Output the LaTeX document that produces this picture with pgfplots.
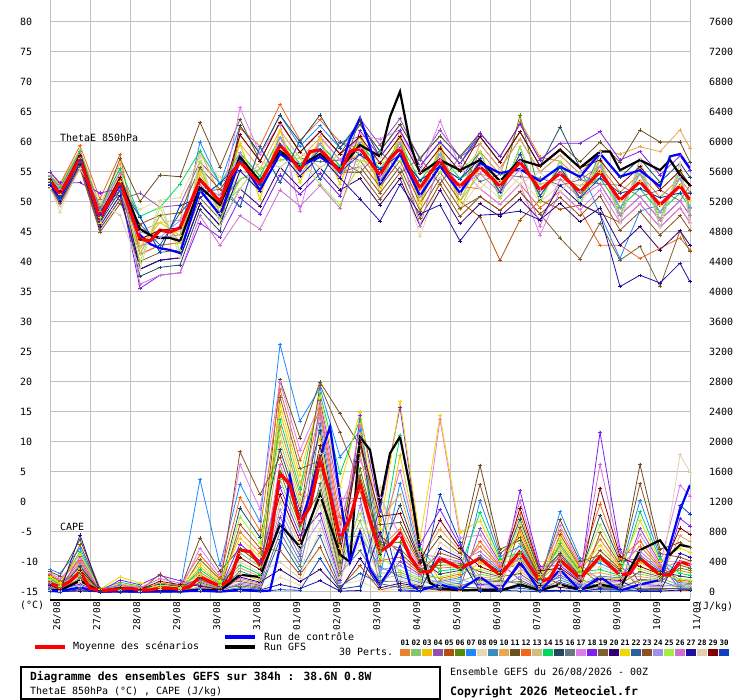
\documentclass[border=0pt]{standalone}
\usepackage{pgfplots}
\pgfplotsset{compat=1.18}
\usepackage{pgfplotstable}
\usepackage{fontspec}
\setmainfont{DejaVu Sans Mono}

\definecolor{c01}{HTML}{E8822F}\definecolor{c02}{HTML}{88C46C}\definecolor{c03}{HTML}{F0C000}
\definecolor{c04}{HTML}{9050B0}\definecolor{c05}{HTML}{B0500E}\definecolor{c06}{HTML}{5A8A0A}
\definecolor{c07}{HTML}{1E88FF}\definecolor{c08}{HTML}{E8D8B0}\definecolor{c09}{HTML}{3C8CC0}
\definecolor{c10}{HTML}{E8A850}\definecolor{c11}{HTML}{6A5020}\definecolor{c12}{HTML}{F06820}
\definecolor{c13}{HTML}{D0C080}\definecolor{c14}{HTML}{00D860}\definecolor{c15}{HTML}{224860}
\definecolor{c16}{HTML}{687880}\definecolor{c17}{HTML}{E07CF0}\definecolor{c18}{HTML}{8020F0}
\definecolor{c19}{HTML}{806030}\definecolor{c20}{HTML}{300070}\definecolor{c21}{HTML}{F0D800}
\definecolor{c22}{HTML}{2860A0}\definecolor{c23}{HTML}{905020}\definecolor{c24}{HTML}{A090F0}
\definecolor{c25}{HTML}{A0F040}\definecolor{c26}{HTML}{D070D0}\definecolor{c27}{HTML}{2010A0}
\definecolor{c28}{HTML}{E0D0B0}\definecolor{c29}{HTML}{800000}\definecolor{c30}{HTML}{1040C0}

% ThetaE 850 hPa, 30 perturbations (deg C)
\pgfplotstableread{
h p01 p02 p03 p04 p05 p06 p07 p08 p09 p10 p11 p12 p13 p14 p15 p16 p17 p18 p19 p20 p21 p22 p23 p24 p25 p26 p27 p28 p29 p30
0 54.3 53.3 53.8 52.5 53.5 53.0 54.0 52.8 53.8 54.5 54.0 55.0 53.3 54.3 53.0 52.8 53.5 55.0 52.5 53.8 54.0 53.0 52.3 53.3 53.5 54.0 52.8 52.3 53.8 53.3
6 52.5 50.9 51.7 49.7 51.3 50.5 52.1 48.3 51.7 52.9 52.1 53.0 50.9 52.5 50.5 50.1 51.3 53.2 49.7 51.7 52.1 50.5 49.3 50.9 51.3 52.1 50.1 49.3 51.7 50.9
18 58.4 57.0 57.7 55.9 57.3 56.6 58.0 56.3 57.7 58.7 58.0 59.4 57.0 58.4 56.6 56.3 57.3 53.2 55.9 57.7 58.0 56.6 55.6 57.0 57.3 58.0 56.3 55.6 57.7 57.0
30 49.0 48.0 47.0 45.5 47.5 48.5 48.5 46.0 47.0 49.5 48.5 50.5 48.0 49.0 46.5 49.0 47.5 51.5 45.5 48.0 46.5 48.5 45.0 48.0 47.5 48.5 46.0 50.0 48.0 48.0
42 55.6 52.6 54.1 50.4 53.4 51.9 54.9 51.1 54.1 56.4 57.2 57.9 52.6 55.6 51.9 51.1 53.4 52.2 50.4 54.1 54.9 51.9 49.7 52.6 53.4 54.9 51.1 47.8 54.1 52.6
54 41.3 42.5 43.8 51.5 38.8 41.3 42.6 48.8 47.5 45.1 50.1 41.3 41.3 47.6 37.6 43.8 42.6 35.6 40.1 38.8 42.5 46.3 46.3 45.0 40.0 36.3 38.8 38.8 43.8 47.5
66 42.8 46.6 45.3 49.1 40.3 47.8 44.1 50.3 41.6 46.6 54.5 42.8 47.8 49.1 39.1 45.3 44.1 37.8 41.6 40.3 46.6 42.8 47.8 44.1 49.1 37.8 40.3 50.3 45.3 41.6
78 43.2 44.4 45.7 49.5 40.7 43.2 44.5 50.7 49.4 47.0 54.2 43.2 43.2 53.0 39.5 45.7 44.5 38.2 42.0 40.7 44.4 48.2 48.2 46.9 41.9 38.2 40.7 40.7 45.7 49.4
90 51.7 54.7 53.7 56.7 49.7 55.7 60.0 57.7 50.7 58.5 63.3 51.7 55.7 58.5 48.7 53.7 52.7 46.5 50.7 49.7 54.7 51.7 55.7 52.7 56.7 47.7 49.7 57.7 53.7 50.7
102 48.1 49.1 50.1 53.1 46.1 48.1 53.0 54.1 53.1 51.1 55.8 48.1 48.1 53.1 45.1 50.1 49.1 44.1 47.1 46.1 49.1 52.1 52.1 51.1 47.1 42.8 46.1 46.1 50.1 53.1
114 58.2 52.2 59.7 55.2 61.2 53.7 62.7 50.7 49.2 59.7 63.8 62.3 55.2 58.2 62.7 53.7 65.7 50.7 56.7 52.2 59.7 49.2 56.7 58.2 53.7 47.7 55.2 52.2 61.2 56.7
126 54.3 56.7 50.5 51.8 56.8 55.5 58.0 48.0 59.2 55.5 56.8 59.3 54.2 54.3 58.0 55.5 58.0 48.0 53.0 49.3 50.5 59.2 53.0 51.7 55.5 45.5 51.8 56.7 56.8 53.0
138 60.8 55.8 62.0 58.3 63.3 57.0 64.5 54.5 53.3 62.0 63.3 66.3 58.3 60.8 64.5 57.0 63.0 54.5 59.5 55.8 62.0 53.3 59.5 60.8 57.0 52.0 58.3 55.8 63.3 59.5
150 56.3 58.3 53.3 54.3 58.3 57.3 59.3 51.3 60.3 57.3 58.3 60.3 56.3 56.3 60.0 57.3 48.5 51.3 55.3 52.3 53.3 60.3 55.3 54.3 57.3 49.3 54.3 58.3 58.3 55.3
162 59.7 55.7 60.7 57.7 61.7 56.7 62.7 54.7 53.7 60.7 61.7 63.7 57.7 59.7 64.5 56.7 61.0 54.7 58.7 55.7 60.7 53.7 58.7 59.7 53.0 52.7 57.7 55.7 61.7 58.7
174 56.0 58.0 53.0 54.0 58.0 57.0 59.0 51.0 60.0 57.0 58.0 60.0 56.0 56.0 59.0 57.0 57.0 51.0 55.0 52.0 53.0 60.0 55.0 54.0 49.5 49.0 54.0 58.0 58.0 55.0
186 57.9 60.9 61.9 63.9 56.9 59.9 62.9 55.9 60.9 57.9 62.9 58.9 56.9 59.9 63.5 54.9 61.0 61.9 55.9 53.9 60.9 57.9 54.9 59.9 56.9 58.9 50.5 55.9 60.9 57.9
198 53.5 52.5 51.5 59.5 52.5 53.5 58.5 51.5 52.5 53.5 58.5 54.5 56.5 55.5 57.5 58.5 60.5 57.5 51.5 49.5 52.5 55.5 50.5 53.5 56.5 54.5 46.8 57.5 56.5 55.5
210 57.9 60.9 61.9 63.9 56.9 59.9 62.9 55.9 60.9 57.9 62.9 58.9 56.9 59.9 61.9 54.9 62.0 61.9 55.9 53.9 60.9 57.9 54.9 59.9 56.9 58.9 52.9 55.9 60.9 57.9
222 51.0 49.8 48.6 57.0 49.8 51.1 57.3 44.2 49.8 51.0 57.3 52.3 54.8 53.5 56.0 57.3 55.0 56.0 48.5 46.0 49.8 53.6 47.3 51.1 54.8 46.0 48.0 56.1 54.8 53.6
234 56.0 59.0 60.0 62.0 55.0 58.0 61.0 54.0 59.0 56.0 61.0 57.0 55.0 58.0 60.0 53.0 63.5 60.0 54.0 52.0 59.0 56.0 53.0 58.0 55.0 57.0 49.5 54.0 59.0 56.0
246 51.4 50.1 48.8 57.5 50.1 51.3 57.6 48.9 50.1 51.4 57.6 52.6 55.1 53.9 56.4 57.6 56.0 56.4 48.9 46.4 50.1 53.8 47.6 51.3 55.1 52.6 43.5 56.3 55.1 53.8
258 58.4 54.7 55.9 59.7 47.5 57.2 60.9 53.4 57.2 59.7 61.5 52.2 54.7 55.9 60.9 53.4 52.2 61.5 50.9 49.7 57.2 58.4 50.9 55.9 58.4 54.7 47.8 52.2 60.9 57.2
270 54.6 53.6 52.6 55.6 40.3 51.6 56.6 50.6 51.6 55.6 57.6 49.6 53.6 52.6 56.6 54.6 49.6 57.6 48.6 47.6 51.6 50.6 48.6 52.6 50.6 51.6 48.0 55.6 56.6 51.6
282 63.5 55.5 56.7 60.5 47.0 64.5 61.7 54.2 58.0 60.5 63.0 53.0 55.5 56.7 61.7 54.2 53.0 63.0 51.7 50.5 58.0 59.2 51.7 56.7 59.2 55.5 48.5 53.0 61.7 58.0
294 57.5 53.0 52.0 55.0 50.3 51.0 56.0 50.0 51.0 55.0 57.0 49.0 53.0 52.0 56.0 54.0 44.5 57.0 48.0 47.0 51.0 50.0 48.0 52.0 50.0 46.0 47.0 55.0 56.0 51.0
306 56.8 53.8 54.8 57.8 48.8 55.8 58.8 52.8 55.8 57.8 59.8 51.8 53.8 54.8 62.5 52.8 51.8 59.8 44.0 49.8 55.8 56.8 50.8 54.8 56.8 53.8 52.8 51.8 58.8 55.8
318 53.7 52.7 51.7 54.7 49.5 50.7 55.7 49.7 50.7 54.7 56.7 48.7 52.7 51.7 55.7 53.7 48.7 59.8 40.5 46.7 50.7 49.7 47.7 51.7 49.7 50.7 49.7 54.7 55.7 50.7
330 56.0 54.0 57.0 53.0 48.1 56.0 48.0 54.0 58.0 58.5 60.0 42.8 56.0 54.0 58.0 53.0 52.0 61.7 46.5 49.0 55.0 57.0 51.0 56.0 57.0 53.0 48.0 58.0 57.0 54.0
342 51.6 51.5 47.8 47.8 46.6 49.0 40.6 49.1 46.5 58.0 56.6 42.8 49.0 49.1 54.1 52.8 46.6 57.0 40.3 42.8 50.3 47.8 45.3 49.0 47.8 47.8 35.9 46.5 52.8 51.5
354 54.7 52.2 55.9 50.9 49.7 54.7 48.5 52.2 57.2 59.2 62.0 40.6 54.7 52.2 57.2 50.9 49.7 58.4 42.6 45.9 53.4 55.9 48.4 54.7 55.9 50.9 37.8 57.2 55.9 52.2
366 50.8 50.7 47.0 47.0 45.8 48.2 49.5 48.3 45.7 58.4 60.0 42.3 48.2 48.3 53.3 52.0 45.8 54.5 35.9 42.0 49.5 47.0 44.5 48.2 47.0 47.0 36.5 45.7 52.0 50.7
378 54.0 51.5 55.2 50.2 49.0 54.0 52.7 51.5 56.5 62.0 60.0 44.0 54.0 51.5 56.5 50.2 49.0 57.7 45.2 45.2 52.7 55.2 47.7 54.0 55.2 50.2 39.8 56.5 55.2 51.5
384 51.6 51.5 47.8 47.8 46.6 49.0 50.3 49.1 46.5 59.0 56.6 42.0 49.0 49.1 54.1 52.8 46.6 55.3 41.7 42.8 50.3 47.8 45.3 49.0 47.8 47.8 36.7 46.5 52.8 51.5
}\thetaP

% CAPE, 30 perturbations (J/kg)
\pgfplotstableread{
h p01 p02 p03 p04 p05 p06 p07 p08 p09 p10 p11 p12 p13 p14 p15 p16 p17 p18 p19 p20 p21 p22 p23 p24 p25 p26 p27 p28 p29 p30
0 171 108 192 63 30 117 300 12 54 153 270 231 81 180 144 45 249 99 216 18 204 36 135 72 162 126 6 24 90 3
6 90 40 112 20 10 45 250 4 18 72 212 158 25 100 65 15 180 35 140 5 125 12 58 22 80 50 2 8 30 1
18 399 231 315 476 42 168 581 70 357 210 700 420 126 539 336 189 448 105 252 14 504 56 630 84 273 378 760 147 294 28
30 28 16 22 34 3 12 41 5 25 15 50 30 9 38 24 13 32 7 18 1 36 4 45 6 19 27 0 10 21 2
42 46 14 110 20 5 36 84 3 10 74 52 24 12 130 66 7 40 160 32 6 200 4 28 18 16 96 1 8 58 2
54 28 8 66 12 3 22 50 2 6 44 31 14 7 78 40 4 24 96 19 4 120 2 17 11 10 58 1 5 35 1
66 73 44 20 8 81 7 40 2 22 26 51 121 13 31 106 6 15 220 11 18 64 3 240 9 92 176 4 35 143 1
78 50 30 14 5 56 5 27 2 15 18 35 83 9 21 72 4 11 150 8 12 44 2 39 6 63 120 3 24 98 1
90 261 108 333 54 27 126 1500 14 45 207 720 495 72 297 180 36 585 90 432 18 378 32 162 63 234 144 9 22 81 5
102 102 42 130 21 11 49 350 5 18 81 280 193 28 116 70 14 228 35 168 7 147 12 63 25 91 56 4 9 32 2
114 800 520 240 100 900 80 1440 20 280 320 580 1260 160 360 1120 60 1700 640 140 200 720 30 1870 120 1000 180 40 400 460 10
126 520 338 156 65 585 52 936 13 182 208 377 819 104 234 728 39 1105 416 91 130 468 20 1300 78 650 117 26 260 299 7
138 2200 1500 2400 1000 550 1600 3300 200 900 2000 2830 2700 1200 2300 1900 800 2800 1400 2600 300 2500 700 1800 1100 2100 1700 100 400 1300 30
150 1300 821 1459 479 228 889 2280 91 410 1163 2052 1756 616 1368 1094 342 1892 752 1642 137 1550 274 1026 547 1231 958 46 182 684 23
162 2400 1650 2050 2550 600 1350 2720 850 2250 1550 2800 2450 1150 2650 2150 1450 2500 1050 1750 300 2600 750 2760 950 1850 2350 150 1250 1950 450
174 900 350 575 1250 50 225 1800 100 725 300 2380 1000 175 1575 650 250 1125 150 400 25 1400 75 2125 125 450 800 12 200 500 38
186 1850 950 2250 1250 350 1650 2150 150 750 2100 1950 1350 850 2300 2050 550 1750 2350 1550 450 2400 250 1450 1150 1050 2200 20 650 2000 80
198 588 252 378 84 28 630 210 14 336 952 896 420 168 546 504 140 1260 1078 672 56 840 112 756 294 462 714 798 1400 1008 1162
210 841 261 1827 406 87 667 1450 44 203 1305 928 464 232 2088 1160 145 754 2465 580 116 2540 58 522 348 290 1624 15 174 1044 29
222 357 168 539 231 56 315 476 28 126 448 378 252 147 581 420 84 336 630 294 70 700 42 273 210 189 504 7 105 399 14
234 320 100 160 40 20 360 80 10 140 840 740 180 70 280 240 60 2300 1100 400 30 2350 50 520 120 200 460 580 660 960 1300
246 336 144 216 48 16 360 120 8 192 544 512 240 96 312 288 80 720 616 384 32 800 64 432 168 264 408 456 480 576 664
258 608 237 389 845 34 152 1217 68 490 203 1690 676 118 1065 439 169 760 101 270 17 946 51 1436 85 304 541 8 135 338 25
270 325 188 257 388 34 137 473 57 291 171 570 342 103 439 274 154 365 86 205 11 410 46 513 68 222 308 6 120 239 23
282 810 648 405 162 864 135 608 27 446 486 688 1040 284 526 972 108 324 1350 243 364 770 54 729 202 918 1215 81 567 1120 14
294 204 163 102 41 218 34 153 7 112 122 173 262 71 133 245 27 82 340 61 92 194 14 184 51 231 306 20 143 282 3
306 610 385 685 225 107 417 1070 43 193 546 963 824 289 642 514 160 888 353 770 64 728 128 482 257 578 449 21 86 321 11
318 257 162 288 95 45 176 450 18 81 230 405 347 122 270 216 68 374 149 324 27 306 54 203 108 243 189 9 36 135 5
330 703 426 192 75 788 64 383 21 213 256 490 1172 128 298 1022 53 149 2130 107 170 618 32 554 85 895 1704 43 341 1385 11
342 342 274 171 68 365 57 257 11 188 205 291 439 120 222 410 46 137 570 103 154 325 23 308 86 388 513 34 239 473 6
354 612 238 391 850 34 153 1224 68 493 204 1700 680 119 1071 442 170 765 102 272 17 952 51 1445 85 306 544 9 136 340 26
366 325 188 257 388 34 137 473 57 291 171 570 342 103 439 274 154 365 86 205 11 410 46 513 68 222 308 6 120 239 23
378 285 89 142 36 18 320 71 9 125 748 659 160 62 249 214 53 1424 979 356 27 587 45 463 107 178 409 516 1830 854 1157
384 256 80 128 32 16 288 64 8 112 672 592 144 56 224 192 48 1280 880 320 24 528 40 416 96 160 368 464 1600 768 1040
}\capeP

\pgfplotsset{
  pert/.style={line width=0.8bp, mark=+, mark size=1.6bp},
  base/.style={
    at={(50bp,100bp)}, anchor=south west,
    scale only axis, width=640bp, height=600bp,
    xmin=0, xmax=384,
    major tick length=0pt,
    tick label style={font=\fontsize{10}{12}\selectfont},
    /pgf/number format/assume math mode=true,
    /pgf/number format/1000 sep={},
  },
}

\begin{document}
\begin{tikzpicture}
\path[use as bounding box] (0,0) rectangle (740bp,700bp);

\begin{axis}[base,
  ymin=-16.3333, ymax=83.6667,
  xtick={0,24,...,384},
  xticklabels={26/08,27/08,28/08,29/08,30/08,31/08,01/09,02/09,03/09,04/09,05/09,06/09,07/09,08/09,09/09,10/09,11/09},
  ytick={-15,-10,...,80},
  grid=major, major grid style={draw=gray!50, line width=1bp},
  axis x line*=bottom, axis y line*=left,
  x axis line style={-, black, line width=1.3bp},
  y axis line style={draw=none},
  xticklabel style={rotate=90, anchor=north east, font=\fontsize{9.5}{11}\selectfont, inner xsep=2bp, inner ysep=3bp},
  yticklabel style={anchor=west, xshift=-30bp, inner sep=0pt},
]
\pgfplotsinvokeforeach{01,02,03,04,05,06,07,08,09,10,11,12,13,14,15,16,17,18,19,20,21,22,23,24,25,26,27,28,29,30}{
  \addplot[pert, color=c#1] table[x=h, y=p#1]{\thetaP};
}
\addplot[black, line width=2.2bp] coordinates {(0,53.8)(6,51.0)(18,57.8)(30,47.0)(42,53.8)(54,45.5)(60,44.5)(66,44.0)(72,44.0)(78,43.5)(90,52.5)(102,49.5)(114,57.5)(126,53.5)(138,58.5)(150,56.0)(162,58.0)(174,55.5)(186,59.5)(198,57.6)(204,64.2)(210,68.4)(216,59.8)(222,54.8)(234,57.0)(246,55.3)(258,57.0)(270,53.5)(282,57.0)(294,56.0)(306,58.7)(318,55.7)(330,58.4)(336,58.4)(342,55.3)(354,57.0)(366,55.3)(372,57.0)(378,54.5)(384,52.8)};
\addplot[blue, line width=2.2bp] coordinates {(0,53.0)(6,50.8)(18,57.5)(30,47.0)(42,53.0)(54,44.5)(60,43.0)(66,42.3)(72,42.0)(78,41.5)(90,52.0)(102,47.8)(114,57.0)(126,52.0)(138,58.0)(150,56.0)(162,57.5)(174,55.5)(180,60.5)(186,64.0)(192,59.2)(198,53.0)(210,58.0)(222,51.0)(234,56.0)(246,51.5)(258,56.5)(270,54.8)(282,55.5)(294,53.5)(306,55.9)(318,54.2)(330,58.1)(342,54.2)(354,55.3)(366,52.6)(372,57.6)(378,58.0)(384,55.6)};
\addplot[red, line width=3.2bp] coordinates {(0,53.5)(6,51.3)(18,57.3)(30,47.3)(42,53.4)(54,43.8)(60,43.5)(66,45.3)(72,45.0)(78,45.7)(90,53.7)(102,50.1)(108,54.2)(114,56.7)(126,53.0)(138,59.5)(144,57.6)(150,55.3)(156,58.4)(162,58.7)(168,57.0)(174,55.0)(180,58.4)(186,58.9)(192,56.7)(198,54.5)(204,57.3)(210,58.9)(216,55.3)(222,52.3)(228,54.8)(234,57.0)(240,54.2)(246,52.6)(258,55.9)(270,52.6)(282,56.7)(294,52.0)(306,54.8)(318,51.7)(330,55.0)(342,50.3)(354,53.4)(366,49.5)(378,52.7)(384,50.3)};
\end{axis}

\begin{axis}[base,
  ymin=-106.667, ymax=7893.333,
  axis x line=none, axis y line*=right,
  y axis line style={draw=none},
  ytick={0,400,...,7600},
  yticklabel style={anchor=west, xshift=19bp, inner sep=0pt},
]
\pgfplotsinvokeforeach{01,02,03,04,05,06,07,08,09,10,11,12,13,14,15,16,17,18,19,20,21,22,23,24,25,26,27,28,29,30}{
  \addplot[pert, color=c#1] table[x=h, y=p#1]{\capeP};
}
\addplot[black, line width=2.2bp] coordinates {(0,30)(6,20)(18,150)(30,10)(42,20)(54,10)(66,20)(78,10)(90,30)(102,20)(114,230)(126,200)(138,900)(150,600)(162,1300)(174,500)(180,400)(186,2070)(192,1893)(198,1182)(204,1849)(210,2071)(216,1404)(222,560)(228,120)(234,50)(246,20)(258,30)(270,20)(282,100)(294,20)(306,100)(318,30)(330,100)(342,50)(354,560)(366,690)(372,500)(378,627)(384,600)};
\addplot[blue, line width=2.2bp] coordinates {(0,20)(6,10)(18,60)(30,5)(42,10)(54,5)(66,5)(78,10)(90,20)(102,5)(114,30)(126,10)(132,20)(138,600)(144,1540)(150,900)(156,1300)(162,1800)(168,2200)(174,1270)(180,400)(186,800)(192,300)(198,100)(204,300)(210,600)(216,100)(222,20)(234,100)(246,30)(258,200)(270,20)(282,400)(294,10)(306,300)(318,20)(330,200)(342,20)(354,100)(366,160)(372,627)(378,1093)(384,1427)};
\addplot[red, line width=3.2bp] coordinates {(0,116)(6,71)(12,140)(18,271)(24,49)(30,18)(36,27)(42,36)(48,49)(54,27)(60,27)(66,49)(72,49)(78,36)(84,71)(90,204)(96,138)(102,80)(108,160)(114,560)(120,538)(126,360)(132,649)(138,1582)(144,1427)(150,916)(156,1138)(162,1760)(168,1316)(174,716)(180,982)(186,1449)(192,960)(198,538)(204,627)(210,782)(216,471)(222,271)(228,271)(234,450)(246,316)(258,449)(270,227)(282,538)(294,138)(300,182)(306,427)(318,182)(330,471)(342,227)(348,249)(354,449)(366,227)(372,227)(378,404)(384,360)};
\end{axis}

\begin{scope}[every node/.style={inner sep=0pt, anchor=west, font=\fontsize{10}{12}\selectfont}]
\node at (20bp,95bp) {(°C)};
\node at (697bp,93bp) {(J/kg)};
\node at (60bp,562bp) {ThetaE 850hPa};
\node at (60bp,173bp) {CAPE};
% legend
\draw[red, line width=4bp] (35bp,53bp) -- (65bp,53bp);
\node at (73bp,53bp) {Moyenne des scénarios};
\draw[blue, line width=4bp] (225bp,63bp) -- (255bp,63bp);
\node at (264bp,63bp) {Run de contrôle};
\draw[black, line width=4bp] (225bp,53bp) -- (255bp,53bp);
\node at (264bp,53bp) {Run GFS};
\node at (339bp,48bp) {30 Perts.};
\foreach \k/\c in {0/01,1/02,2/03,3/04,4/05,5/06,6/07,7/08,8/09,9/10,10/11,11/12,12/13,13/14,14/15,15/16,16/17,17/18,18/19,19/20,20/21,21/22,22/23,23/24,24/25,25/26,26/27,27/28,28/29,29/30}{
  \fill[fill=c\c] ({(400+11*\k)*1bp},44bp) rectangle ++(10bp,6.7bp);
  \node[anchor=center, font=\bfseries\fontsize{7.5}{9}\selectfont] at ({(405+11*\k)*1bp},57bp) {\c};
}
% footer
\draw[line width=1.5bp] (21bp,1bp) rectangle (440bp,33bp);
\node[font=\bfseries\fontsize{11.3}{13}\selectfont] at (30bp,23bp) {Diagramme des ensembles GEFS sur 384h : 38.6N 0.8W};
\node at (30bp,8bp) {ThetaE 850hPa (°C) , CAPE (J/kg)};
\node at (450bp,28bp) {Ensemble GEFS du 26/08/2026 - 00Z};
\node[font=\bfseries\fontsize{11.6}{14}\selectfont] at (450bp,8bp) {Copyright 2026 Meteociel.fr};
\end{scope}
\end{tikzpicture}
\end{document}
